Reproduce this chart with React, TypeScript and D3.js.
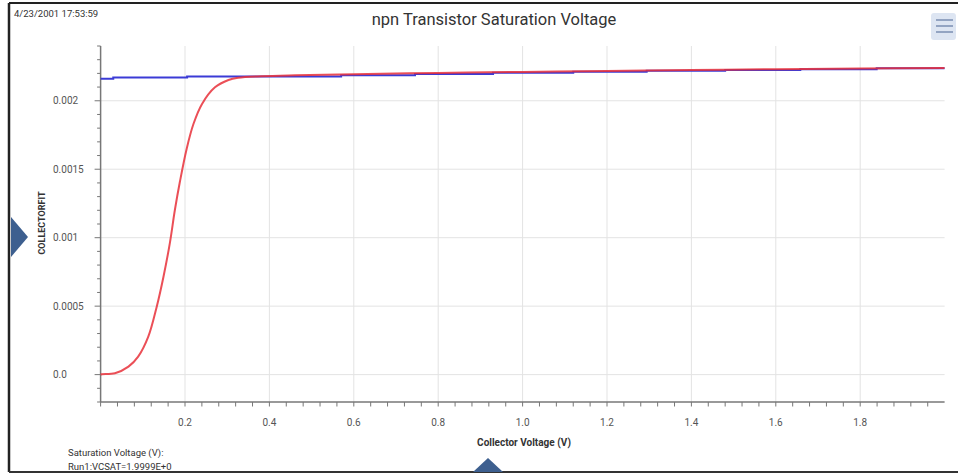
import React from "react";
import * as d3 from "d3";

// Fit curve (red): collector voltage (V) vs COLLECTORFIT
const fitX = [0, 0.0026, 0.034, 0.066, 0.089, 0.113, 0.133, 0.149, 0.164, 0.176, 0.188, 0.204, 0.22, 0.24, 0.271, 0.303, 0.326, 0.382, 0.461, 0.6, 0.8, 1.0, 1.2, 1.4, 1.6, 1.8, 1.9999];
const fitY = [0, 0.000003, 0.00001, 0.000058, 0.000131, 0.000277, 0.000496, 0.000715, 0.000959, 0.001202, 0.00141, 0.00165, 0.00183, 0.001975, 0.002098, 0.002152, 0.002168, 0.002179, 0.002186, 0.002194, 0.002203, 0.002211, 0.002218, 0.002225, 0.002231, 0.002236, 0.002239];

// Measured (blue, quantized steps)
const measX = [0, 0.03, 0.205, 0.57, 0.745, 0.93, 1.12, 1.294, 1.48, 1.658, 1.839, 1.9999];
const measY = [0.00216, 0.00217, 0.002178, 0.002186, 0.002196, 0.002204, 0.002212, 0.002219, 0.002225, 0.002231, 0.002238, 0.002238];

const xTickLabels = [0.2, 0.4, 0.6, 0.8, 1.0, 1.2, 1.4, 1.6, 1.8];
const yTickLabels = [0, 0.0005, 0.001, 0.0015, 0.002];

const W = 958;
const H = 474;
const FONT = "Roboto, 'Noto Sans', sans-serif";

export default function App() {
  const x = d3.scaleLinear().domain([0, 2.0]).range([100.6, 944.6]);
  const y = d3.scaleLinear().domain([-0.0002, 0.0024]).range([402, 46]);

  const fitData = fitX.map((v, i) => [v, fitY[i]] as [number, number]);
  const measData = measX.map((v, i) => [v, measY[i]] as [number, number]);

  const lineSmooth = d3
    .line<[number, number]>()
    .x((d) => x(d[0]))
    .y((d) => y(d[1]))
    .curve(d3.curveCatmullRom.alpha(0.5));
  const lineStep = d3
    .line<[number, number]>()
    .x((d) => x(d[0]))
    .y((d) => y(d[1]))
    .curve(d3.curveStepAfter);

  const xMinor = d3.range(0, 50).map((i) => i * 0.04);
  const yMinor = d3.range(-2, 25).map((i) => i * 0.0001);

  const fmtY = (v: number) => (v === 0 ? "0.0" : String(+v.toFixed(4)));

  const [x0, x1] = x.range();
  const [yb, yt] = y.range();

  return (
    <svg
      width={W}
      height={H}
      style={{ position: "absolute", left: 0, top: 0, background: "#fff" }}
      fontFamily={FONT}
    >
      <rect x={0} y={0} width={W} height={H} fill="#fff" />
      {/* frame */}
      <line x1={9} y1={3} x2={W} y2={3} stroke="#222" strokeWidth={2} />
      <line x1={9} y1={3} x2={9} y2={472} stroke="#222" strokeWidth={2.5} />
      <line x1={9} y1={472} x2={W} y2={472} stroke="#333" strokeWidth={2} />

      {/* timestamp & title */}
      <text x={14} y={17} fontSize={9.5} fill="#333">4/23/2001 17:53:59</text>
      <text x={494} y={25} fontSize={16.5} fill="#333" textAnchor="middle">
        npn Transistor Saturation Voltage
      </text>

      {/* menu icon */}
      <rect x={931} y={13} width={25} height={27} rx={3} fill="#dde5f2" />
      {[20, 26, 32].map((yy) => (
        <line key={yy} x1={936} x2={953} y1={yy} y2={yy} stroke="#8093b5" strokeWidth={1.6} />
      ))}

      {/* gridlines */}
      {xTickLabels.map((v) => (
        <line key={"gx" + v} x1={x(v)} x2={x(v)} y1={yt} y2={yb} stroke="#e3e3e3" strokeWidth={1} />
      ))}
      {yTickLabels.map((v) => (
        <line key={"gy" + v} x1={x0} x2={x1} y1={y(v)} y2={y(v)} stroke="#e3e3e3" strokeWidth={1} />
      ))}

      {/* axes */}
      <line x1={x0} x2={x0} y1={yt} y2={yb} stroke="#777" strokeWidth={1.5} />
      <line x1={x0} x2={x1} y1={yb} y2={yb} stroke="#777" strokeWidth={1.5} />
      {yMinor.map((v, i) => {
        const major = Math.abs(Math.round(v * 10000) % 5) === 0;
        return (
          <line key={"ym" + i} x1={x0 - (major ? 6 : 3.5)} x2={x0} y1={y(v)} y2={y(v)} stroke="#777" strokeWidth={1} />
        );
      })}
      {xMinor.map((v, i) => (
        <line key={"xm" + i} x1={x(v)} x2={x(v)} y1={yb} y2={yb + 4.5} stroke="#777" strokeWidth={1} />
      ))}
      {yTickLabels.map((v) => (
        <text key={"yl" + v} x={53} y={y(v) + 3.5} fontSize={10} fill="#555">
          {fmtY(v)}
        </text>
      ))}
      {xTickLabels.map((v) => (
        <text key={"xl" + v} x={x(v)} y={426} fontSize={10} fill="#555" textAnchor="middle">
          {v.toFixed(1)}
        </text>
      ))}

      {/* axis titles */}
      <text x={524} y={446} fontSize={10} fontWeight="bold" fill="#333" textAnchor="middle">
        Collector Voltage (V)
      </text>
      <text
        transform={`translate(45,223) rotate(-90)`}
        fontSize={9}
        fontWeight="bold"
        fill="#333"
        textAnchor="middle"
      >
        COLLECTORFIT
      </text>

      {/* series */}
      <path d={lineStep(measData) || ""} fill="none" stroke="#3b3bd6" strokeWidth={2} />
      <path d={lineSmooth(fitData) || ""} fill="none" stroke="#e8303a" strokeWidth={2} strokeOpacity={0.85} />

      {/* footer text */}
      <text x={68} y={456} fontSize={9.5} fill="#333">Saturation Voltage (V):</text>
      <text x={68} y={470} fontSize={9.5} fill="#333">Run1:VCSAT=1.9999E+0</text>

      {/* triangles */}
      <path d="M11,217 L28,237 L11,257 Z" fill="#3d5f8f" />
      <path d="M473,472 L488,458 L503,472 Z" fill="#3d5f8f" />
    </svg>
  );
}
